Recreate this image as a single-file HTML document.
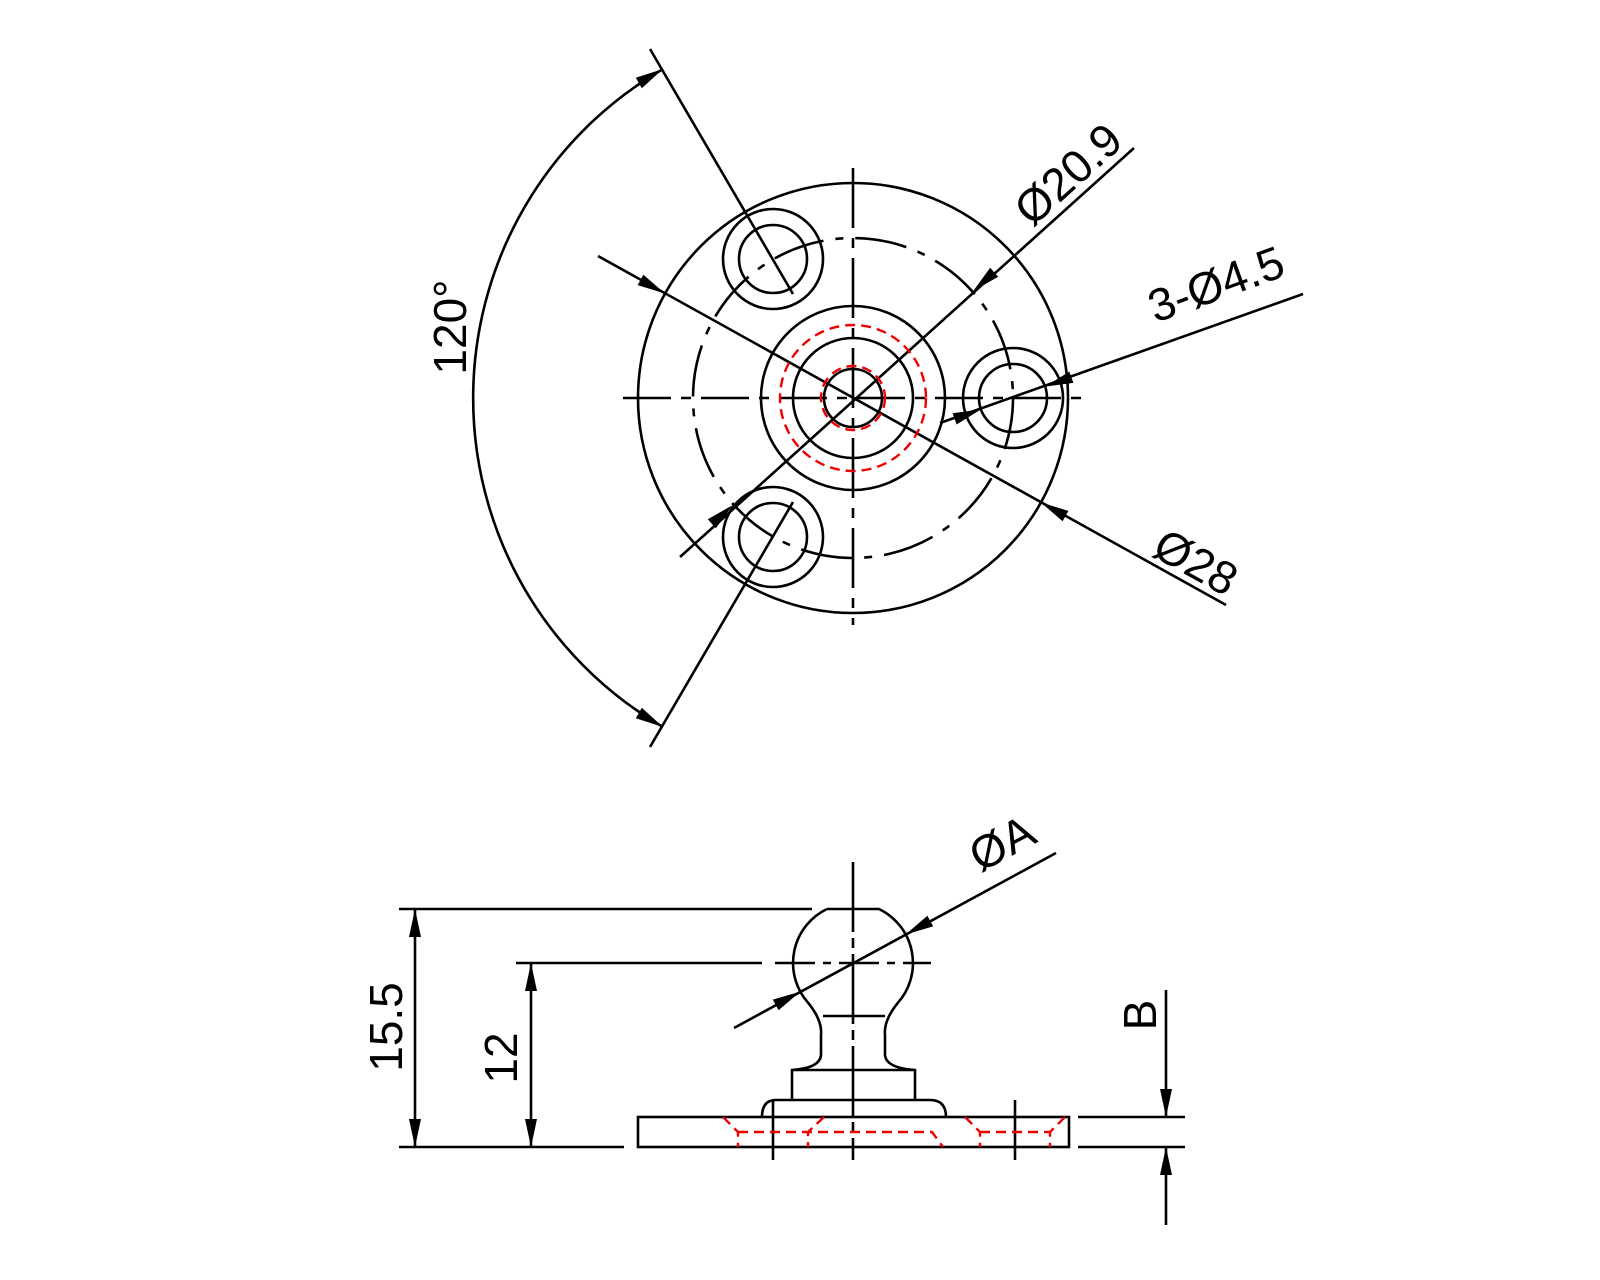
<!DOCTYPE html>
<html><head><meta charset="utf-8"><style>html,body{margin:0;padding:0;background:#fff}svg{display:block}</style></head>
<body>
<svg width="1600" height="1280" viewBox="0 0 1600 1280" xmlns="http://www.w3.org/2000/svg" font-family="Liberation Sans, sans-serif">
<g fill="none" stroke="#000" stroke-width="2.6">
<!-- top view -->
<circle cx="853" cy="398" r="215"/>
<circle cx="853" cy="398" r="160" stroke-dasharray="52 12 8 12"/>
<circle cx="853" cy="398" r="92"/>
<circle cx="853" cy="398" r="60"/>
<circle cx="853" cy="398" r="29"/>
<circle cx="1013" cy="398" r="50"/><circle cx="1013" cy="398" r="34"/>
<circle cx="773" cy="259" r="50"/><circle cx="773" cy="259" r="34"/>
<circle cx="773" cy="537" r="50"/><circle cx="773" cy="537" r="34"/>
<line x1="853" y1="168" x2="853" y2="625" stroke-dasharray="60 10 10 10"/>
<line x1="623" y1="398" x2="1085" y2="398" stroke-dasharray="48 10 10 10"/>
<!-- 120 -->
<line x1="793" y1="294" x2="650" y2="49"/>
<line x1="793" y1="502" x2="650" y2="747"/>
<path d="M663,69 A380,380 0 0 0 663,727"/>
<!-- dims -->
<line x1="598" y1="256" x2="1226" y2="605"/>
<line x1="680" y1="557" x2="1134" y2="148"/>
<line x1="940" y1="423" x2="1303" y2="294"/>
<!-- bottom view -->
<path d="M827,909 L879,909 A60,60 0 0 1 897.7,1003 C888,1015 884,1025 885,1035 L885,1055 Q886,1068 915,1070 L915,1100 M827,909 A60,60 0 0 0 808.3,1003 C818,1015 822,1025 821,1035 L821,1055 Q820,1068 792,1070 L792,1100 M792,1070 L915,1070"/>
<line x1="823" y1="1016" x2="885" y2="1016"/>
<path d="M762,1117 Q762,1100 776,1100 L930,1100 Q946,1100 946,1117"/>
<rect x="638" y="1117" width="431" height="30"/>
<line x1="853" y1="862" x2="853" y2="1160" stroke-dasharray="70 6 10 6"/>
<line x1="773" y1="1100" x2="773" y2="1160"/>
<line x1="1015" y1="1100" x2="1015" y2="1160"/>
<line x1="399" y1="909" x2="812" y2="909"/>
<line x1="516" y1="963" x2="762" y2="963"/>
<line x1="775" y1="963" x2="931" y2="963" stroke-dasharray="40 8 8 8"/>
<line x1="399" y1="1147" x2="624" y2="1147"/>
<line x1="1078" y1="1147" x2="1185" y2="1147"/>
<line x1="1078" y1="1117" x2="1185" y2="1117"/>
<line x1="415" y1="909" x2="415" y2="1147"/>
<line x1="531" y1="963" x2="531" y2="1147"/>
<line x1="1166" y1="990" x2="1166" y2="1117"/>
<line x1="1166" y1="1147" x2="1166" y2="1225"/>
<line x1="734" y1="1028" x2="1056" y2="853"/>
</g>
<g fill="none" stroke="#e00" stroke-width="2.4" stroke-dasharray="10 6">
<circle cx="853" cy="398" r="73"/>
<circle cx="853" cy="398" r="32"/>
<path d="M723,1117 L738,1132 L738,1147 M824,1117 L808,1132 L808,1147 M738,1132 L932,1132 L943,1147 M965,1117 L980,1132 L980,1147 M1065,1117 L1050,1132 L1050,1147 M980,1132 L1050,1132"/>
</g>
<g fill="#000">
<polygon points="665,293.5 637.6,285.1 643.4,274.7"/>
<polygon points="1041,502.5 1062.6,521.3 1068.4,510.9"/>
<polygon points="973.3,290.9 998.2,276.8 990.2,267.8"/>
<polygon points="732.7,505.1 715.8,528.2 707.8,519.2"/>
<polygon points="1045,386.6 1073.4,382.9 1069.4,371.6"/>
<polygon points="981,409.4 956.6,424.5 952.6,413.2"/>
<polygon points="663,69 641.8,88.2 635.8,77.8"/>
<polygon points="663,727 635.8,718.2 641.8,707.8"/>
<polygon points="905.7,934.4 933.2,926.4 927.4,915.8"/>
<polygon points="800.3,991.6 778.6,1010.2 772.8,999.6"/>
<polygon points="415,909 409,937 421,937"/>
<polygon points="415,1147 409,1119 421,1119"/>
<polygon points="531,963 525,991 537,991"/>
<polygon points="531,1147 525,1119 537,1119"/>
<polygon points="1166,1117 1160,1089 1172,1089"/>
<polygon points="1166,1147 1160,1175 1172,1175"/>
</g>
<g fill="#000" font-size="46" text-anchor="middle" dominant-baseline="central">
<text transform="translate(1068,174) rotate(-42)">Ø20.9</text>
<text transform="translate(1216,284) rotate(-20)">3-Ø4.5</text>
<text transform="translate(1196,562) rotate(29)">Ø28</text>
<text transform="translate(450,327) rotate(-90)">120°</text>
<text transform="translate(1002,843) rotate(-28)">ØA</text>
<text transform="translate(386,1027) rotate(-90)">15.5</text>
<text transform="translate(501,1058) rotate(-90)">12</text>
<text transform="translate(1140,1015) rotate(-90)">B</text>
</g>
</svg>
</body></html>
